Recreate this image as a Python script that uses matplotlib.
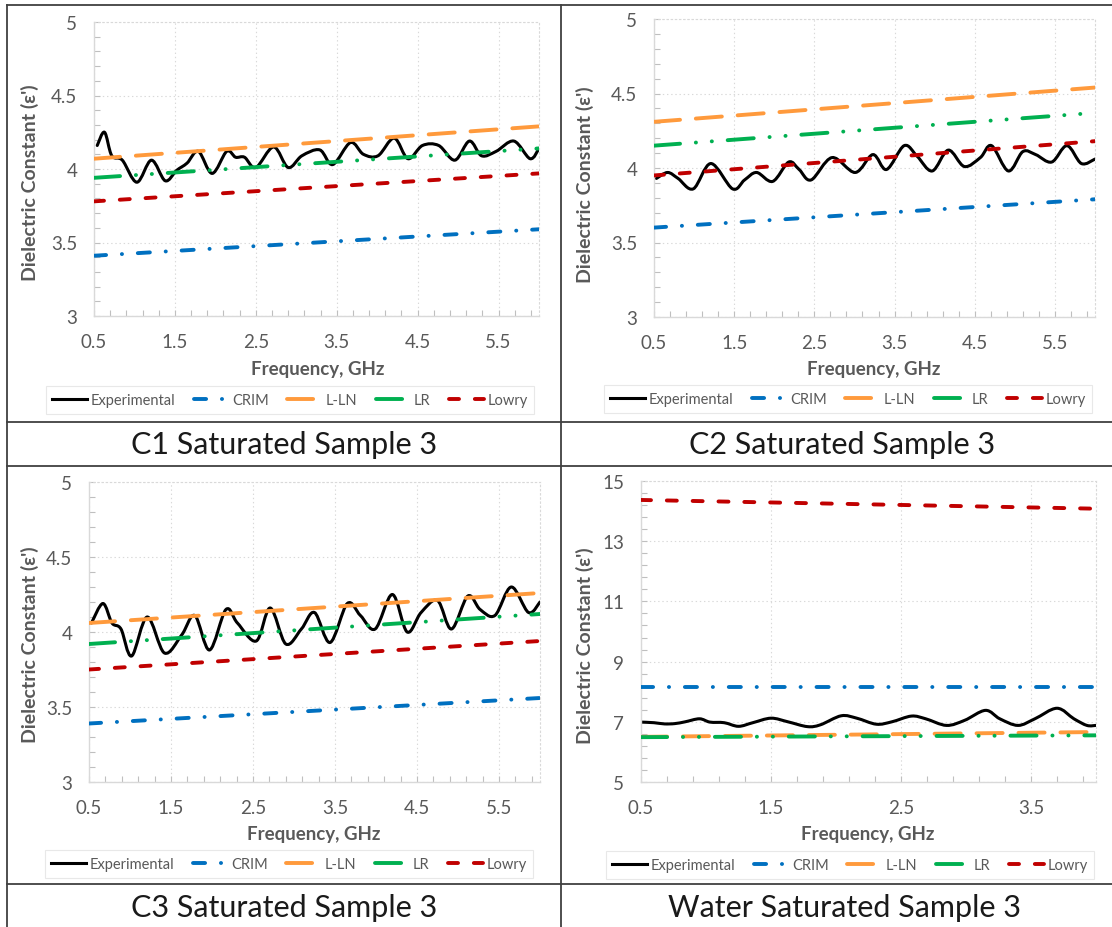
import numpy as np
import matplotlib
matplotlib.use('Agg')
import matplotlib.pyplot as plt
from matplotlib.path import Path
from matplotlib.patches import PathPatch
from matplotlib.lines import Line2D
from matplotlib.ticker import FixedLocator, FormatStrFormatter

plt.rcParams['font.family'] = ['Lato', 'DejaVu Sans']
plt.rcParams['lines.scale_dashes'] = False

# ---------------- data ----------------
series_names = ["Experimental", "CRIM", "L-LN", "LR", "Lowry"]

# C1 Saturated Sample 3
c1_freq = [0.54, 0.63, 0.72, 0.85, 1.03, 1.21, 1.38, 1.52, 1.65, 1.79, 1.96, 2.14, 2.25, 2.36,
           2.50, 2.72, 2.90, 3.07, 3.29, 3.45, 3.67, 3.83, 4.01, 4.21, 4.38, 4.56, 4.76, 4.96,
           5.14, 5.29, 5.47, 5.69, 5.89, 6.0]
c1_exp = [4.16, 4.25, 4.09, 4.06, 3.91, 4.06, 3.92, 3.99, 4.04, 4.12, 3.97, 4.12, 4.08, 4.08,
          4.01, 4.15, 4.01, 4.09, 4.13, 4.03, 4.18, 4.10, 4.09, 4.21, 4.07, 4.16, 4.16, 4.06,
          4.19, 4.09, 4.12, 4.19, 4.07, 4.14]
c1_model_freq = [0.5, 6.0]
c1_crim = [3.41, 3.59]
c1_lln = [4.07, 4.29]
c1_lr = [3.94, 4.14]
c1_lowry = [3.78, 3.97]

# C2 Saturated Sample 3
c2_freq = [0.53, 0.67, 0.80, 0.99, 1.21, 1.48, 1.63, 1.78, 1.98, 2.18, 2.31, 2.46, 2.72, 3.01,
           3.23, 3.40, 3.62, 3.78, 3.97, 4.17, 4.37, 4.57, 4.71, 4.92, 5.10, 5.26, 5.46, 5.65,
           5.83, 6.0]
c2_exp = [3.93, 3.97, 3.93, 3.86, 4.03, 3.86, 3.92, 3.97, 3.91, 4.04, 3.99, 3.92, 4.07, 3.97,
          4.09, 3.99, 4.15, 4.08, 3.98, 4.12, 4.01, 4.07, 4.15, 3.98, 4.11, 4.09, 4.04, 4.15,
          4.03, 4.06]
c2_model_freq = [0.5, 6.0]
c2_crim = [3.60, 3.79]
c2_lln = [4.31, 4.54]
c2_lr = [4.15, 4.37]
c2_lowry = [3.95, 4.18]

# C3 Saturated Sample 3
c3_freq = [0.53, 0.67, 0.78, 0.89, 1.02, 1.21, 1.42, 1.63, 1.79, 1.97, 2.17, 2.31, 2.54, 2.71,
           2.90, 3.09, 3.25, 3.44, 3.65, 3.81, 3.99, 4.20, 4.38, 4.55, 4.75, 4.92, 5.12, 5.27,
           5.45, 5.65, 5.86, 6.0]
c3_exp = [4.06, 4.19, 4.06, 4.02, 3.84, 4.10, 3.86, 3.98, 4.11, 3.88, 4.15, 4.06, 3.94, 4.16,
          3.92, 4.02, 4.13, 3.93, 4.19, 4.11, 4.02, 4.25, 4.00, 4.13, 4.21, 4.02, 4.24, 4.15,
          4.11, 4.30, 4.13, 4.20]
c3_model_freq = [0.5, 6.0]
c3_crim = [3.39, 3.56]
c3_lln = [4.06, 4.26]
c3_lr = [3.92, 4.12]
c3_lowry = [3.75, 3.94]

# Water Saturated Sample 3
w_freq = [0.50, 0.60, 0.68, 0.76, 0.84, 0.95, 1.03, 1.14, 1.25, 1.36, 1.50, 1.63, 1.78, 1.88,
          2.04, 2.16, 2.31, 2.43, 2.58, 2.69, 2.85, 2.99, 3.15, 3.26, 3.40, 3.53, 3.70, 3.83,
          3.93, 4.0]
w_exp = [6.99, 6.97, 6.93, 6.94, 7.00, 7.10, 6.99, 6.97, 6.85, 6.97, 7.12, 7.00, 6.84, 6.90,
         7.20, 7.12, 6.92, 7.00, 7.19, 7.10, 6.88, 7.05, 7.38, 7.10, 6.88, 7.10, 7.45, 7.10,
         6.88, 6.88]
w_model_freq = [0.5, 4.0]
w_crim = [8.16, 8.16]
w_lln = [6.50, 6.66]
w_lr = [6.49, 6.55]
w_lowry = [14.37, 14.08]

captions = ["C1 Saturated Sample 3", "C2 Saturated Sample 3",
            "C3 Saturated Sample 3", "Water Saturated Sample 3"]
x_label = "Frequency, GHz"
y_label = "Dielectric Constant (\u03b5')"

# ---------------- styling ----------------
W, H = 1112, 928
fig = plt.figure(figsize=(W / 100, H / 100), dpi=100)


def fx(px):
    return px / W


def fy(py):
    return 1 - py / H


LW = 2.8
styles = {
    "CRIM": dict(color="#0070C0", dashes=(8.7, 11.4, 0.1, 11.4)),
    "L-LN": dict(color="#FF9A3C", dashes=(18.8, 11.4)),
    "LR": dict(color="#00B050", dashes=(18.8, 11.4, 0.1, 11.4, 0.1, 11.4)),
    "Lowry": dict(color="#C00000", dashes=(7.2, 11.4)),
}


def smooth_path(x, y):
    x = np.asarray(x, float)
    y = np.asarray(y, float)
    n = len(x)
    verts = [(x[0], y[0])]
    codes = [Path.MOVETO]
    for i in range(n - 1):
        i0, i3 = max(i - 1, 0), min(i + 2, n - 1)
        c1 = (x[i] + (x[i + 1] - x[i0]) / 6, y[i] + (y[i + 1] - y[i0]) / 6)
        c2 = (x[i + 1] - (x[i3] - x[i]) / 6, y[i + 1] - (y[i3] - y[i]) / 6)
        verts += [c1, c2, (x[i + 1], y[i + 1])]
        codes += [Path.CURVE4] * 3
    return Path(verts, codes)


panels = [
    dict(freq=c1_freq, exp=c1_exp, mf=c1_model_freq, crim=c1_crim, lln=c1_lln, lr=c1_lr,
         lowry=c1_lowry, rect=(94, 23, 539, 317), xlim=(0.5, 6.0), ylim=(3, 5),
         yt=np.arange(3, 5.01, 0.5), ym=np.arange(3, 5.01, 0.1), xt=np.arange(0.5, 5.6, 1.0),
         xm=np.arange(0.5, 6.01, 0.2), ylab=(30, 183), xlab=(318, 370), leg=(290, 401),
         cap=(284, 445)),
    dict(freq=c2_freq, exp=c2_exp, mf=c2_model_freq, crim=c2_crim, lln=c2_lln, lr=c2_lr,
         lowry=c2_lowry, rect=(654, 20, 1095, 318), xlim=(0.5, 6.0), ylim=(3, 5),
         yt=np.arange(3, 5.01, 0.5), ym=np.arange(3, 5.01, 0.1), xt=np.arange(0.5, 5.6, 1.0),
         xm=np.arange(0.5, 6.01, 0.2), ylab=(585, 185), xlab=(874, 370), leg=(848, 400),
         cap=(842, 445)),
    dict(freq=c3_freq, exp=c3_exp, mf=c3_model_freq, crim=c3_crim, lln=c3_lln, lr=c3_lr,
         lowry=c3_lowry, rect=(89, 483, 540, 783), xlim=(0.5, 6.0), ylim=(3, 5),
         yt=np.arange(3, 5.01, 0.5), ym=np.arange(3, 5.01, 0.1), xt=np.arange(0.5, 5.6, 1.0),
         xm=np.arange(0.5, 6.01, 0.2), ylab=(30, 645), xlab=(314, 835), leg=(289, 865),
         cap=(284, 908)),
    dict(freq=w_freq, exp=w_exp, mf=w_model_freq, crim=w_crim, lln=w_lln, lr=w_lr,
         lowry=w_lowry, rect=(641, 482, 1096, 783), xlim=(0.5, 4.0), ylim=(5, 15),
         yt=np.arange(5, 15.01, 2), ym=np.arange(5, 15.01, 0.4), xt=np.arange(0.5, 3.6, 1.0),
         xm=np.arange(0.5, 4.01, 0.2), ylab=(585, 646), xlab=(868, 835), leg=(850, 866),
         cap=(844, 908)),
]

for p, cap in zip(panels, captions):
    l, t, r, b = p["rect"]
    ax = fig.add_axes([fx(l), fy(b), (r - l) / W, (b - t) / H])
    ax.set_xlim(*p["xlim"])
    ax.set_ylim(*p["ylim"])

    patch = PathPatch(smooth_path(p["freq"], p["exp"]), fill=False, edgecolor="black",
                      lw=2.2, joinstyle="round", capstyle="round", zorder=2)
    ax.add_patch(patch)
    h_exp = Line2D([], [], color="black", lw=2.2)

    handles = [h_exp]
    for name, key in [("CRIM", "crim"), ("L-LN", "lln"), ("LR", "lr"), ("Lowry", "lowry")]:
        st = styles[name]
        ln, = ax.plot(p["mf"], p[key], color=st["color"], lw=LW, dashes=st["dashes"],
                      dash_capstyle="round", solid_capstyle="round", zorder=3, label=name)
        handles.append(ln)

    # axes styling
    for sp in ["left", "bottom"]:
        ax.spines[sp].set_color("#D9D9D9")
        ax.spines[sp].set_linewidth(1.0)
    for sp in ["top", "right"]:
        ax.spines[sp].set_color("#D9D9D9")
        ax.spines[sp].set_linewidth(0.8)
        ax.spines[sp].set_linestyle((0, (1, 2)))
    ax.xaxis.set_major_locator(FixedLocator(p["xt"]))
    ax.xaxis.set_minor_locator(FixedLocator(p["xm"]))
    ax.yaxis.set_major_locator(FixedLocator(p["yt"]))
    ax.yaxis.set_minor_locator(FixedLocator(p["ym"]))
    ax.xaxis.set_major_formatter(FormatStrFormatter("%g"))
    ax.yaxis.set_major_formatter(FormatStrFormatter("%g"))
    ax.grid(True, which="major", color="#D9D9D9", linestyle=(0, (1, 2)), lw=0.8, zorder=0)
    ax.tick_params(which="both", direction="in", color="#BFBFBF", length=4, width=0.8,
                   labelcolor="#595959", labelsize=13.5)
    ax.tick_params(axis="x", which="both", top=False, pad=12)
    ax.tick_params(axis="y", which="both", right=False, pad=12)
    ax.set_axisbelow(True)

    ax.set_xlabel(x_label, fontsize=13.5, fontweight="bold", color="#595959")
    ax.set_ylabel(y_label, fontsize=14, fontweight="bold", color="#595959")
    ax.xaxis.label.set_va("center")
    ax.yaxis.label.set_va("center")
    xl, yl = p["xlab"]
    ax.xaxis.set_label_coords((xl - l) / (r - l), (b - yl) / (b - t))
    xl, yl = p["ylab"]
    ax.yaxis.set_label_coords((xl - l) / (r - l), (b - yl) / (b - t))

    leg = ax.legend(handles, series_names, loc="center",
                    bbox_to_anchor=(fx(p["leg"][0]), fy(p["leg"][1])),
                    bbox_transform=fig.transFigure, ncol=5, frameon=True, fancybox=False,
                    edgecolor="#E3E3E3", fontsize=10.5, handlelength=2.4, handletextpad=0.2,
                    columnspacing=1.3, borderpad=0.45, labelcolor="#595959")
    leg.get_frame().set_linewidth(0.8)

    fig.text(fx(p["cap"][0]), fy(p["cap"][1]), cap, ha="center", va="center",
             fontsize=22, color="#1A1A1A")

# table borders
bc, bw = "#404040", 1.3
for yy in [6, 423, 467, 885]:
    fig.add_artist(Line2D([fx(7), fx(1112)], [fy(yy), fy(yy)], transform=fig.transFigure,
                          color=bc, lw=bw))
for xx in [7, 561]:
    fig.add_artist(Line2D([fx(xx), fx(xx)], [fy(6), fy(928)], transform=fig.transFigure,
                          color=bc, lw=bw))

fig.savefig("out.png", dpi=100)
